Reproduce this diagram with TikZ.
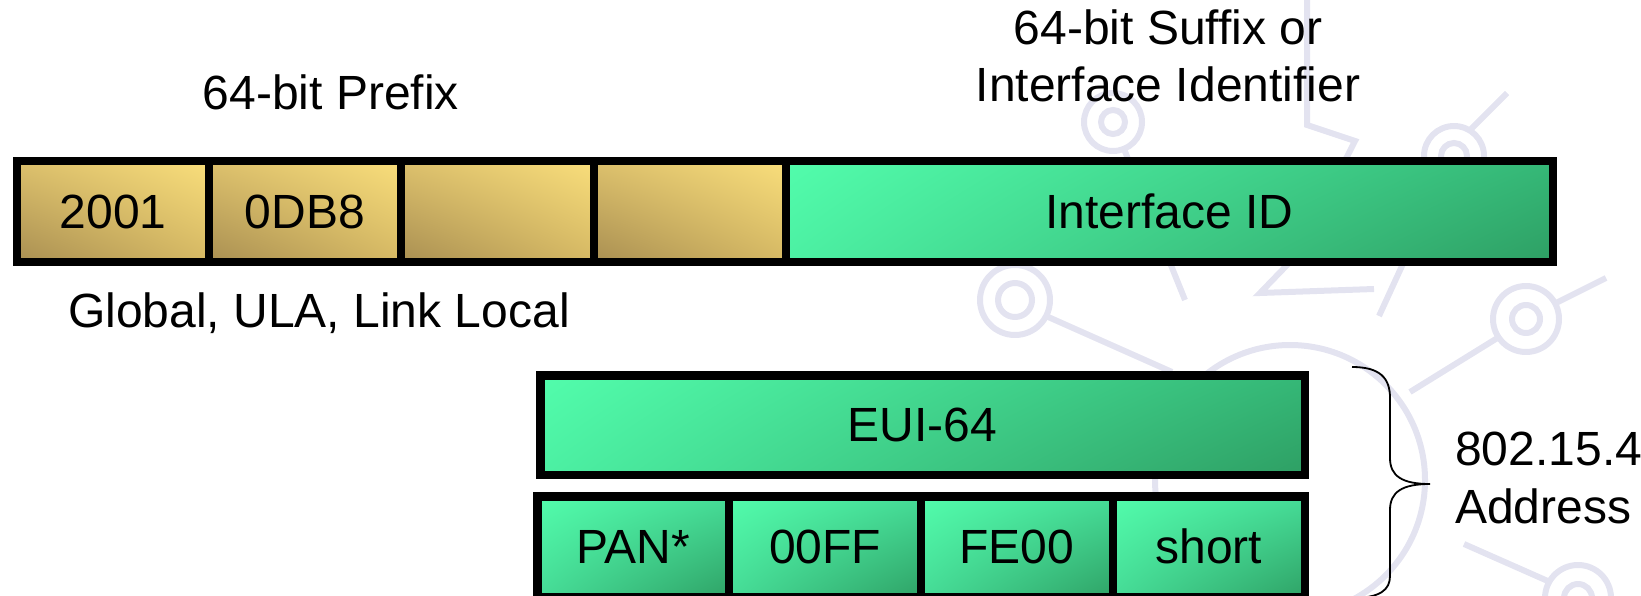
\documentclass[tikz,border=0pt]{standalone}
\usepackage{fontspec}
\setmainfont{Liberation Sans}
\usetikzlibrary{shadings}
\definecolor{wm}{HTML}{E3E3F0}
\definecolor{gUL}{HTML}{DCC06C}
\definecolor{gUR}{HTML}{F9DE7B}
\definecolor{gLL}{HTML}{A98F52}
\definecolor{gLR}{HTML}{D6B964}
\definecolor{eUL}{HTML}{52FDAC}
\definecolor{eLL}{HTML}{4CF0A3}
\definecolor{eUR}{HTML}{35B877}
\definecolor{eLR}{HTML}{2E9F64}
\definecolor{sMid}{HTML}{46DC97}
\definecolor{sLR}{HTML}{2FA266}
\begin{document}
\begin{tikzpicture}[x=1bp,y=-1bp,
  lbl/.style={font=\fontsize{48bp}{58bp}\selectfont, inner sep=0pt},
  cellbox/.style={draw=black, line width=8.5bp, inner sep=0pt, font=\fontsize{48bp}{58bp}\selectfont},
  goldcell/.style={cellbox, upper left=gUL, upper right=gUR, lower left=gLL, lower right=gLR},
  longgreen/.style={cellbox, upper left=eUL, upper right=eUR, lower left=eLL, lower right=eLR},
  smallgreen/.style={cellbox, upper left=eUL, upper right=sMid, lower left=sMid, lower right=sLR},
  wmline/.style={draw=wm, line width=6bp},
  bracestyle/.style={draw=black, line width=1.8bp}]
\useasboundingbox (0,0) rectangle (1641,596);

% faint watermark
\draw[wmline] (1290,480) circle[radius=135];
\foreach \cx/\cy/\ro/\ri in {1015/300/35/17, 1113/122/29/12, 1454/156/30/13, 1526/319/33/14, 1578/598/33/14}{
  \draw[wmline] (\cx,\cy) circle[radius=\ro];
  \draw[wmline] (\cx,\cy) circle[radius=\ri];
}
\draw[wmline] (1046,316) -- (1172,372);
\draw[wmline] (1124,149) -- (1185,300);
\draw[wmline] (1470,130) -- (1507,93);
\draw[wmline] (1440,183) -- (1379,316);
\draw[wmline] (1556,303) -- (1606,278);
\draw[wmline] (1499,337) -- (1410,392);
\draw[wmline] (1550,582) -- (1464,544);
\draw[wmline] (1307,0) -- (1307,125) -- (1355,141) -- (1330,190);
\draw[wmline] (1290,262) -- (1260,293) -- (1374,289);

% titles
\node[lbl, anchor=base] (prefix) at (331,110) {64-bit Prefix};
\node[lbl, anchor=base] (suffixA) at (1168,45) {64-bit Suffix or};
\node[lbl, anchor=base] (suffixB) at (1168,102) {Interface Identifier};

% top bar
\node[goldcell, minimum width=191.75bp, minimum height=100.5bp] (c2001) at (113.125,211.5) {2001};
\node[goldcell, minimum width=192bp, minimum height=100.5bp] (c0db8) at (305,211.5) {0DB8};
\node[goldcell, minimum width=193bp, minimum height=100.5bp] (c3) at (497.5,211.5) {};
\node[goldcell, minimum width=192bp, minimum height=100.5bp] (c4) at (690,211.5) {};
\node[longgreen, minimum width=766.75bp, minimum height=100.5bp] (iid) at (1169.375,211.5) {Interface ID};

\node[lbl, anchor=base west] (types) at (68,327) {Global, ULA, Link Local};

% EUI-64
\node[longgreen, minimum width=764.5bp, minimum height=99.5bp] (eui) at (922.5,425) {EUI-64};

% short address row
\node[smallgreen, minimum width=191.9bp, minimum height=101bp] (pan) at (633.2,546.75) {PAN*};
\node[smallgreen, minimum width=191.9bp, minimum height=101bp] (ff) at (825.05,546.75) {00FF};
\node[smallgreen, minimum width=191.9bp, minimum height=101bp] (fe) at (1016.95,546.75) {FE00};
\node[smallgreen, minimum width=191.9bp, minimum height=101bp] (short) at (1208.8,546.75) {short};

% brace
\coordinate (bTop) at (1352,367);
\coordinate (bTip) at (1430,484);
\coordinate (bBot) at (1352,598);
\draw[bracestyle] (bTop) .. controls (1380,367) and (1390,378) .. (1390,398)
  -- (1390,458) .. controls (1390,476) and (1402,484) .. (bTip)
  .. controls (1402,484) and (1390,492) .. (1390,510)
  -- (1390,576) .. controls (1390,590) and (1380,598) .. (bBot);

\node[lbl, anchor=base west] (addrA) at (1455,465) {802.15.4};
\node[lbl, anchor=base west] (addrB) at (1455,523) {Address};
\end{tikzpicture}
\end{document}
